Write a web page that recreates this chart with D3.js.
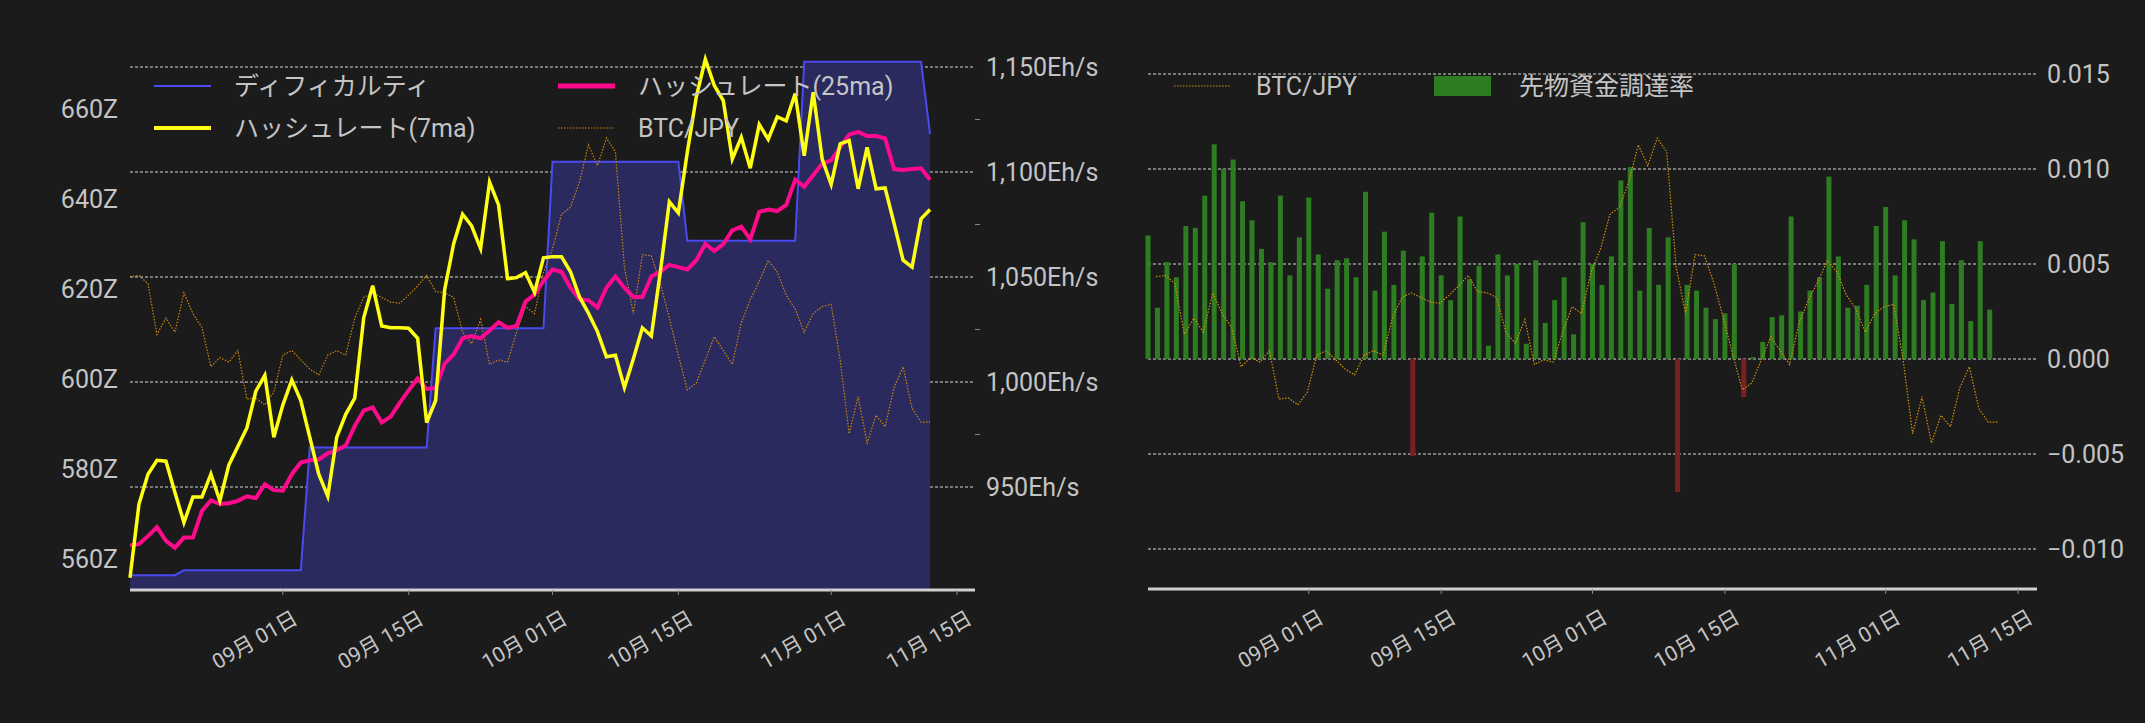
<!DOCTYPE html>
<html><head><meta charset="utf-8">
<script src="https://cdn.jsdelivr.net/npm/d3@7"></script>
<style>body{margin:0;background:#1b1b1b}svg{display:block}text{font-family:Roboto,"Noto Sans CJK JP",sans-serif}</style>
</head><body><svg id="c" width="2145" height="723"></svg>
<script>
const startDate = "2025-08-15";
const tickDates = ["2025-09-01","2025-09-15","2025-10-01","2025-10-15","2025-11-01","2025-11-15"];
const difficulty = [].concat(
  Array(6).fill(556.4), Array(14).fill(557.5), Array(14).fill(584.8), Array(13).fill(611.3),
  Array(15).fill(648.3), Array(13).fill(630.7), Array(14).fill(670.5), [654.4]);
const hash7 = [906.8,941.9,956.1,962.7,962.3,947.4,933.1,945.2,945.2,956.1,943.4,960.5,969.3,978.1,995.6,1003.2,973.7,989.0,1001.0,991.2,973.7,956.1,945.6,973.7,984.6,992.3,1030.6,1045.9,1026.7,1025.8,1025.8,1025.6,1020.8,980.7,991.2,1043.8,1065.7,1079.9,1074.4,1063.5,1095.2,1084.3,1049.2,1049.7,1052.1,1042.7,1059.1,1059.7,1059.7,1052.5,1040.5,1032.8,1024.0,1012.0,1012.7,997.3,1011.1,1025.8,1021.9,1052.5,1085.8,1080.6,1109.5,1135.8,1153.7,1141.2,1134.0,1106.2,1116.5,1101.8,1122.6,1115.6,1126.3,1124.4,1137.3,1107.7,1138.0,1106.2,1094.1,1113.4,1115.0,1092.0,1111.7,1092.0,1092.4,1075.5,1058.0,1054.7,1077.7,1082.1];
const hash25 = [922.2,922.8,926.6,930.9,924.4,921.1,925.9,925.9,938.6,943.6,941.9,942.3,943.4,945.6,944.7,951.3,948.5,948.2,956.1,961.6,962.7,963.1,966.0,967.5,969.7,979.1,986.4,987.9,980.7,983.5,990.1,996.0,1001.7,996.7,997.1,1008.7,1013.1,1020.8,1021.9,1020.8,1024.5,1028.4,1025.8,1026.7,1038.3,1041.6,1048.1,1053.6,1052.5,1044.9,1039.4,1038.9,1035.4,1044.9,1050.3,1044.9,1040.5,1040.5,1050.3,1052.5,1055.8,1054.7,1053.6,1058.0,1065.7,1062.4,1065.7,1072.2,1074.0,1067.9,1081.0,1082.1,1081.4,1084.3,1096.3,1093.0,1098.5,1104.0,1105.5,1111.7,1117.8,1119.1,1117.1,1117.1,1116.0,1101.4,1100.9,1101.4,1101.8,1096.3];
const btc = [1630,1631,1624,1580,1594,1582,1616,1598,1586,1552,1560,1556,1566,1524,1525,1519,1530,1562,1566,1558,1550,1545,1562,1566,1562,1594,1612,1616,1612,1608,1607,1614,1622,1631,1617,1616,1612,1582,1572,1593,1554,1558,1556,1582,1604,1598,1634,1654,1684,1690,1712,1744,1726,1750,1738,1638,1598,1649,1648,1624,1594,1562,1532,1538,1558,1578,1566,1554,1590,1610,1626,1644,1634,1614,1602,1582,1598,1604,1606,1558,1494,1526,1486,1510,1500,1534,1552,1516,1504,1504];
const funding = [0.0065,0.0027,0.0051,0.0043,0.0070,0.0069,0.0086,0.0113,0.0100,0.0105,0.0083,0.0073,0.0058,0.0051,0.0086,0.0044,0.0064,0.0085,0.0055,0.0037,0.0052,0.0053,0.0043,0.0088,0.0036,0.0067,0.0039,0.0057,-0.0051,0.0054,0.0077,0.0044,0.0031,0.0075,0.0042,0.0049,0.0007,0.0055,0.0044,0.0050,0.0008,0.0052,0.0019,0.0031,0.0043,0.0013,0.0072,0.0050,0.0039,0.0054,0.0094,0.0101,0.0036,0.0069,0.0039,0.0064,-0.0070,0.0039,0.0036,0.0027,0.0021,0.0024,0.0050,-0.0020,0.0001,0.0009,0.0022,0.0023,0.0075,0.0025,0.0036,0.0043,0.0096,0.0054,0.0027,0.0028,0.0039,0.0070,0.0080,0.0044,0.0073,0.0063,0.0031,0.0035,0.0062,0.0029,0.0052,0.0020,0.0062,0.0026];
const zTicks = [560,580,600,620,640,660];
const ehTicks = [950,1000,1050,1100,1150];
const frTicks = [-0.010,-0.005,0,0.005,0.010,0.015];

const parse = d3.utcParse("%Y-%m-%d");
const t0 = parse(startDate);
const day = i => d3.utcDay.offset(t0, i);
const svg = d3.select("#c");
const LC = "#c4c4c4", GRID = "#d8d8d8";
const fmtDate = d => `${d3.utcFormat("%m")(d)}月 ${d3.utcFormat("%d")(d)}日`;

function xAxis(g, x, y0) {
  g.append("line").attr("x1", x.range()[0]).attr("x2", x.range()[1]).attr("y1", y0).attr("y2", y0)
    .attr("stroke", "#d0d0d0").attr("stroke-width", 3);
  tickDates.forEach(s => {
    const d = parse(s), xx = x(d);
    g.append("line").attr("x1", xx).attr("x2", xx).attr("y1", y0).attr("y2", y0 + 5).attr("stroke", "#888");
    g.append("text").attr("transform", `translate(${xx + 8},${y0 + 18}) rotate(-30)`)
      .attr("text-anchor", "end").attr("dy", "0.8em").attr("fill", LC).attr("font-size", 21).text(fmtDate(d));
  });
}
const xDom = [t0, parse("2025-11-17")];
const btcY = d3.scaleLinear().domain([1486, 1750]).range([443, 138]);

// ---- Left chart
{
  const x = d3.scaleUtc().domain(xDom).range([130, 975]);
  const yZ = d3.scaleLinear().domain([560, 660]).range([559, 109]);
  const yH = d3.scaleLinear().domain([950, 1150]).range([487, 67]);
  const bottom = 590;
  const g = svg.append("g");
  ehTicks.forEach(v => g.append("line").attr("x1", 130).attr("x2", 975).attr("y1", yH(v)).attr("y2", yH(v))
    .attr("stroke", GRID).attr("stroke-dasharray", "3,2").attr("stroke-width", 1));
  [975, 1025, 1075, 1125].forEach(v => g.append("line").attr("x1", 975).attr("x2", 980).attr("y1", yH(v)).attr("y2", yH(v)).attr("stroke", "#888"));
  g.append("path").datum(difficulty)
    .attr("d", d3.area().x((d, i) => x(day(i))).y0(bottom).y1(d => yZ(d)))
    .attr("fill", "#2a2a5e");
  g.append("path").datum(difficulty)
    .attr("d", d3.line().x((d, i) => x(day(i))).y(d => yZ(d)))
    .attr("fill", "none").attr("stroke", "#4a4af0").attr("stroke-width", 2);
  g.append("path").datum(btc)
    .attr("d", d3.line().x((d, i) => x(day(i))).y(d => btcY(d)))
    .attr("fill", "none").attr("stroke", "#c8860a").attr("stroke-width", 1.2).attr("stroke-dasharray", "1.5,1.5");
  g.append("path").datum(hash25)
    .attr("d", d3.line().x((d, i) => x(day(i))).y(d => yH(d)))
    .attr("fill", "none").attr("stroke", "#ff0a8c").attr("stroke-width", 4);
  g.append("path").datum(hash7)
    .attr("d", d3.line().x((d, i) => x(day(i))).y(d => yH(d)))
    .attr("fill", "none").attr("stroke", "#ffff14").attr("stroke-width", 3.5);
  zTicks.forEach(v => g.append("text").attr("x", 118).attr("y", yZ(v)).attr("dy", "0.35em")
    .attr("text-anchor", "end").attr("fill", LC).attr("font-size", 25).text(v + "Z"));
  ehTicks.forEach(v => g.append("text").attr("x", 986).attr("y", yH(v)).attr("dy", "0.35em")
    .attr("fill", LC).attr("font-size", 25).text(d3.format(",")(v) + "Eh/s"));
  xAxis(g, x, bottom);
  const leg = [
    {t: "ディフィカルティ", c: "#4a4af0", w: 2, x: 154, y: 86},
    {t: "ハッシュレート(7ma)", c: "#ffff14", w: 4, x: 154, y: 128},
    {t: "ハッシュレート(25ma)", c: "#ff0a8c", w: 5, x: 558, y: 86},
    {t: "BTC/JPY", c: "#c8860a", w: 1.2, x: 558, y: 128, dash: "1.5,1.5"}];
  leg.forEach(l => {
    g.append("line").attr("x1", l.x).attr("x2", l.x + 57).attr("y1", l.y).attr("y2", l.y)
      .attr("stroke", l.c).attr("stroke-width", l.w).attr("stroke-dasharray", l.dash || null);
    g.append("text").attr("x", l.x + 80).attr("y", l.y).attr("dy", "0.35em").attr("fill", LC)
      .attr("font-size", 25).text(l.t);
  });
}
// ---- Right chart
{
  const x = d3.scaleUtc().domain(xDom).range([1148, 2037]);
  const y = d3.scaleLinear().domain([-0.010, 0.015]).range([549, 74]);
  const bottom = 589;
  const g = svg.append("g");
  frTicks.forEach(v => g.append("line").attr("x1", 1148).attr("x2", 2037).attr("y1", y(v)).attr("y2", y(v))
    .attr("stroke", GRID).attr("stroke-dasharray", "3,2").attr("stroke-width", 1));
  g.selectAll("rect.b").data(funding).join("rect")
    .attr("x", (d, i) => x(day(i)) - 2.5).attr("width", 5)
    .attr("y", d => y(Math.max(0, d))).attr("height", d => Math.abs(y(d) - y(0)))
    .attr("fill", d => d < 0 ? "#7a1f24" : "#2e7d22");
  g.append("path").datum(btc)
    .attr("d", d3.line().x((d, i) => x(day(i)) + 8).y(d => btcY(d)))
    .attr("fill", "none").attr("stroke", "#d0900a").attr("stroke-width", 1.2).attr("stroke-dasharray", "1.5,1.5");
  frTicks.forEach(v => g.append("text").attr("x", 2047).attr("y", y(v)).attr("dy", "0.35em")
    .attr("fill", LC).attr("font-size", 25).text(d3.format(".3f")(v).replace("-", "\u2212")));
  xAxis(g, x, bottom);
  g.append("line").attr("x1", 1174).attr("x2", 1230).attr("y1", 86).attr("y2", 86)
    .attr("stroke", "#d0900a").attr("stroke-width", 1.2).attr("stroke-dasharray", "1.5,1.5");
  g.append("text").attr("x", 1256).attr("y", 86).attr("dy", "0.35em").attr("fill", LC).attr("font-size", 25).text("BTC/JPY");
  g.append("rect").attr("x", 1434).attr("y", 76).attr("width", 57).attr("height", 20).attr("fill", "#2e7d22");
  g.append("text").attr("x", 1519).attr("y", 86).attr("dy", "0.35em").attr("fill", LC).attr("font-size", 25).text("先物資金調達率");
}
</script></body></html>
